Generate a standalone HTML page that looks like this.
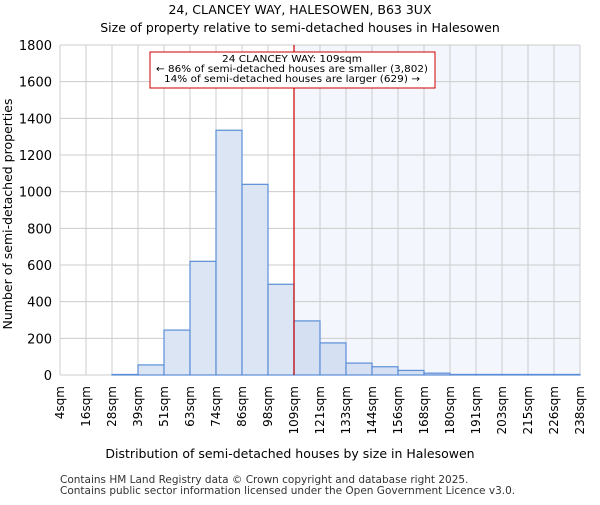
<!DOCTYPE html>
<html><head><meta charset="utf-8"><style>body{margin:0;background:#fff}svg{font-family:"DejaVu Sans","Liberation Sans",sans-serif}</style></head>
<body>
<svg id="c" width="600" height="500">
<text x="300" y="14" text-anchor="middle" font-size="12.5">24, CLANCEY WAY, HALESOWEN, B63 3UX</text>
<text x="300" y="32" text-anchor="middle" font-size="12.5">Size of property relative to semi-detached houses in Halesowen</text>
<g id="plot"></g>
<text x="290" y="458" text-anchor="middle" font-size="12.5">Distribution of semi-detached houses by size in Halesowen</text>
<text transform="translate(12,214) rotate(-90)" text-anchor="middle" font-size="12.5">Number of semi-detached properties</text>
<text x="60" y="483" font-size="10.5" fill="#333">Contains HM Land Registry data © Crown copyright and database right 2025.</text>
<text x="60" y="494" font-size="10.5" fill="#333">Contains public sector information licensed under the Open Government Licence v3.0.</text>
</svg>
<script>
const labels=["4sqm","16sqm","28sqm","39sqm","51sqm","63sqm","74sqm","86sqm","98sqm","109sqm","121sqm","133sqm","144sqm","156sqm","168sqm","180sqm","191sqm","203sqm","215sqm","226sqm","238sqm"];
const counts=[0,0,3,55,245,620,1335,1040,495,295,175,65,45,25,10,3,3,3,3,3];
const yTicks=[0,200,400,600,800,1000,1200,1400,1600,1800];
const markerIndex=9;
const NS="http://www.w3.org/2000/svg";
const L=60,R=580,T=45,B=375,yMax=1800;
const bw=(R-L)/counts.length;
const xs=i=>L+i*bw, ys=v=>B-(v/yMax)*(B-T);
const g=document.getElementById('plot');
function mk(t,a){const e=document.createElementNS(NS,t);for(const k in a)e.setAttribute(k,a[k]);g.appendChild(e);return e;}
let e=mk('rect',{x:xs(markerIndex),y:T,width:R-xs(markerIndex),height:B-T,fill:'#f3f6fd'});


yTicks.forEach(v=>{let l=mk('line',{x1:L,x2:R,y1:ys(v),y2:ys(v),stroke:'#ccc'});


let t=mk('text',{x:L-8,y:ys(v)+5,'text-anchor':'end','font-size':13});t.textContent=v;

});
labels.forEach((s,i)=>{let l=mk('line',{x1:xs(i),x2:xs(i),y1:T,y2:B,stroke:'#ccc'});


let t=mk('text',{transform:`translate(${xs(i)+4},386) rotate(-90)`,'text-anchor':'end','font-size':12});t.textContent=s;

});
counts.forEach((v,i)=>{if(v<=0)return;let r=mk('rect',{x:xs(i),y:ys(v),width:bw,height:B-ys(v),fill:i>=markerIndex?'#d6e0f3':'#dce5f4',stroke:'#5b8ed6','stroke-width':1.2});

});
e=mk('line',{x1:xs(markerIndex),x2:xs(markerIndex),y1:T,y2:B,stroke:'#cc0000','stroke-width':1.2});


e=mk('rect',{x:150,y:52,width:285,height:36,fill:'#fff',stroke:'#cc0000'});


["24 CLANCEY WAY: 109sqm","← 86% of semi-detached houses are smaller (3,802)","14% of semi-detached houses are larger (629) →"].forEach((s,i)=>{let t=mk('text',{x:292,y:62+i*10,'text-anchor':'middle','font-size':10,'textLength':i==0?140:i==1?272:256,'lengthAdjust':'spacingAndGlyphs'});t.textContent=s;

});
</script>
</body></html>
